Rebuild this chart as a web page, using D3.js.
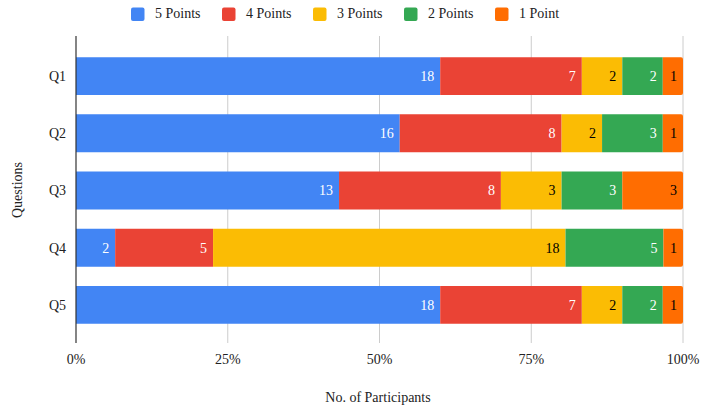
<!DOCTYPE html>
<html>
<head>
<meta charset="utf-8">
<script src="https://cdn.jsdelivr.net/npm/d3@7"></script>
<style>
  body { margin: 0; background: #fff; }
</style>
</head>
<body>
<div id="chart"></div>
<script>
// data
var questions = ['Q1', 'Q2', 'Q3', 'Q4', 'Q5'];
var seriesNames = ['5 Points', '4 Points', '3 Points', '2 Points', '1 Point'];
var fivePoints = [18, 16, 13, 2, 18];
var fourPoints = [7, 8, 8, 5, 7];
var threePoints = [2, 2, 3, 18, 2];
var twoPoints = [2, 3, 3, 5, 2];
var onePoint = [1, 1, 3, 1, 1];
var tickLabels = ['0%', '25%', '50%', '75%', '100%'];

var colors = ['#4285F4', '#EA4335', '#FBBC04', '#34A853', '#FF6D01'];
var labelColors = ['#fff', '#fff', '#000', '#fff', '#000'];

var width = 701, height = 412;
var svg = d3.select('#chart').append('svg')
  .attr('width', width).attr('height', height)
  .style('font-family', '"Liberation Serif", "Times New Roman", serif');

var rows = questions.map(function(q, i) {
  var vals = [fivePoints[i], fourPoints[i], threePoints[i], twoPoints[i], onePoint[i]];
  var total = d3.sum(vals);
  var acc = 0;
  return vals.map(function(v, j) {
    var seg = {q: q, value: v, k: j, x0: acc / total, x1: (acc + v) / total};
    acc += v;
    return seg;
  });
});

var x = d3.scaleLinear().domain([0, 1]).range([76, 683]);
var y = d3.scaleBand().domain(questions).range([47.4, 333.6])
  .paddingInner(0.34).paddingOuter(0.17);

// gridlines
svg.append('g').selectAll('line')
  .data([0.25, 0.5, 0.75, 1]).enter().append('line')
  .attr('x1', d => x(d)).attr('x2', d => x(d))
  .attr('y1', 36).attr('y2', 343)
  .attr('stroke', '#ccc').attr('stroke-width', 1);

// bars
var groups = svg.append('g').selectAll('g')
  .data(rows).enter().append('g');

groups.selectAll('path')
  .data(d => d).enter().append('path')
  .attr('fill', d => colors[d.k])
  .attr('d', function(d) {
    var x0 = x(d.x0), x1 = x(d.x1), y0 = y(d.q), h = y.bandwidth();
    if (d.k === 4) {
      var r = 2;
      return 'M' + [x0, y0] + ' L' + [x1 - r, y0] + ' Q' + [x1, y0] + ' ' + [x1, y0 + r] +
        ' L' + [x1, y0 + h - r] + ' Q' + [x1, y0 + h] + ' ' + [x1 - r, y0 + h] +
        ' L' + [x0, y0 + h] + 'Z';
    }
    return 'M' + [x0, y0] + ' H' + x1 + ' V' + (y0 + h) + ' H' + x0 + 'Z';
  });

groups.selectAll('text')
  .data(d => d).enter().append('text')
  .attr('x', d => x(d.x1) - 6)
  .attr('y', d => y(d.q) + y.bandwidth() / 2)
  .attr('dy', '0.35em')
  .attr('text-anchor', 'end')
  .attr('font-size', 14)
  .attr('fill', d => labelColors[d.k])
  .text(d => d.value);

// axis line
svg.append('line')
  .attr('x1', x(0)).attr('x2', x(0))
  .attr('y1', 36).attr('y2', 343)
  .attr('stroke', '#333').attr('stroke-width', 1.2);

// y labels
svg.append('g').selectAll('text')
  .data(questions).enter().append('text')
  .attr('x', 66)
  .attr('y', d => y(d) + y.bandwidth() / 2)
  .attr('dy', '0.35em')
  .attr('text-anchor', 'end')
  .attr('font-size', 14)
  .attr('fill', '#222')
  .text(d => d);

// x tick labels
svg.append('g').selectAll('text')
  .data(tickLabels).enter().append('text')
  .attr('x', (d, i) => x(i / 4))
  .attr('y', 364)
  .attr('text-anchor', 'middle')
  .attr('font-size', 14)
  .attr('fill', '#222')
  .text(d => d);

// axis titles
svg.append('text')
  .attr('x', 378).attr('y', 402)
  .attr('text-anchor', 'middle')
  .attr('font-size', 14).attr('fill', '#222')
  .text('No. of Participants');

svg.append('text')
  .attr('transform', 'translate(21.5,190) rotate(-90)')
  .attr('text-anchor', 'middle')
  .attr('font-size', 14).attr('fill', '#222')
  .text('Questions');

// legend
var legendX = [131, 222, 313, 404, 495];
var legend = svg.append('g').selectAll('g')
  .data(seriesNames).enter().append('g')
  .attr('transform', (d, i) => 'translate(' + legendX[i] + ',7.5)');
legend.append('rect')
  .attr('width', 13.5).attr('height', 13.5).attr('rx', 2)
  .attr('fill', (d, i) => colors[i]);
legend.append('text')
  .attr('x', 24).attr('y', 10.5)
  .attr('font-size', 14).attr('fill', '#222')
  .text(d => d);
</script>
</body>
</html>
